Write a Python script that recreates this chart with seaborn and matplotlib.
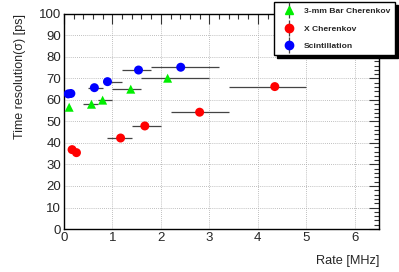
import matplotlib
matplotlib.use("Agg")
import matplotlib.pyplot as plt
import matplotlib.ticker as mticker
from matplotlib.lines import Line2D
import seaborn as sns
import pandas as pd

# Data
###############################################################################

series_names = ['3-mm Bar Cherenkov', 'X Cherenkov', 'Scintillation']
series_colors = ['#00ee00', '#ff0000', '#0000ff']
series_markers = ['^', 'o', 'o']

bar_rate = [0.11, 0.57, 0.80, 1.38, 2.14]
bar_rate_lo = [0.10, 0.40, 0.70, 1.00, 1.60]
bar_rate_hi = [0.12, 0.70, 1.00, 1.60, 3.00]
bar_sigma = [56.6, 58.0, 59.9, 65.0, 70.1]

x_rate = [0.17, 0.26, 1.17, 1.67, 2.80, 4.35]
x_rate_lo = [0.17, 0.26, 0.90, 1.40, 2.20, 3.40]
x_rate_hi = [0.17, 0.26, 1.40, 2.00, 3.40, 5.00]
x_sigma = [36.9, 35.5, 42.3, 47.9, 54.3, 66.2]

sc_rate = [0.09, 0.145, 0.63, 0.90, 1.54, 2.41]
sc_rate_lo = [0.08, 0.13, 0.50, 0.80, 1.20, 1.80]
sc_rate_hi = [0.10, 0.16, 0.80, 1.20, 1.79, 3.20]
sc_sigma = [62.8, 63.0, 65.7, 68.5, 73.9, 75.2]

rates = [bar_rate, x_rate, sc_rate]
rates_lo = [bar_rate_lo, x_rate_lo, sc_rate_lo]
rates_hi = [bar_rate_hi, x_rate_hi, sc_rate_hi]
sigmas = [bar_sigma, x_sigma, sc_sigma]

frames = []
for name, r, s in zip(series_names, rates, sigmas):
    frames.append(pd.DataFrame({'Rate': r, 'Sigma': s, 'Type': name}))
df = pd.concat(frames, ignore_index=True)

# Plot
###############################################################################

sns.set_style('white')
plt.rcParams['font.family'] = ['Liberation Sans', 'DejaVu Sans']

fig = plt.figure(figsize=(3.99, 2.72), dpi=100)
ax = fig.add_axes([0.160, 0.158, 0.790, 0.791])

# horizontal error bars first, points on top
for r, lo, hi, s in zip(rates, rates_lo, rates_hi, sigmas):
    xerr = [[a - b for a, b in zip(r, lo)], [b - a for a, b in zip(r, hi)]]
    ax.errorbar(r, s, xerr=xerr, fmt='none', ecolor='#444444',
                elinewidth=0.9, capsize=0, zorder=2)

sns.scatterplot(data=df, x='Rate', y='Sigma', hue='Type', style='Type',
                hue_order=series_names, style_order=series_names,
                palette=dict(zip(series_names, series_colors)),
                markers=dict(zip(series_names, series_markers)),
                s=42, linewidth=0, legend=False, ax=ax, zorder=3)

ax.set_xlim(0, 6.5)
ax.set_ylim(0, 100)
ax.xaxis.set_major_locator(mticker.MultipleLocator(1))
ax.xaxis.set_minor_locator(mticker.MultipleLocator(0.2))
ax.yaxis.set_major_locator(mticker.MultipleLocator(10))
ax.yaxis.set_minor_locator(mticker.MultipleLocator(2))
ax.tick_params(which='both', direction='in', top=True, right=True,
               labelsize=9.5, color='#333333', pad=2)
ax.tick_params(which='major', length=7, width=0.8)
ax.tick_params(which='minor', length=3.5, width=0.8)
ax.grid(True, which='major', linestyle=(0, (1, 1.5)), color='#aaaaaa',
        linewidth=0.6)
for sp in ax.spines.values():
    sp.set_color('black')
    sp.set_linewidth(1.0)

ax.set_xlabel('Rate [MHz]', fontsize=9.2, loc='right', labelpad=8)
ax.set_ylabel('Time resolution(σ) [ps]', fontsize=9.0, loc='top',
              labelpad=9)

handles = []
for c, m in zip(series_colors, series_markers):
    bar = Line2D([], [], color='#444444', marker='|', markersize=11,
                 linestyle='none', markeredgewidth=0.9)
    dot = Line2D([], [], color=c, marker=m, markersize=6, linestyle='none')
    handles.append((bar, dot))

fig.legend(handles, series_names, loc='upper right',
           bbox_to_anchor=(0.995, 0.998), fancybox=False, framealpha=1,
           edgecolor='black', prop={'size': 6.1, 'weight': 'bold'},
           handlelength=2.4, borderpad=0.55, labelspacing=1.15,
           handletextpad=0.6, borderaxespad=0.2,
           shadow={'color': 'black', 'alpha': 1})

fig.savefig('out.png', dpi=100)
